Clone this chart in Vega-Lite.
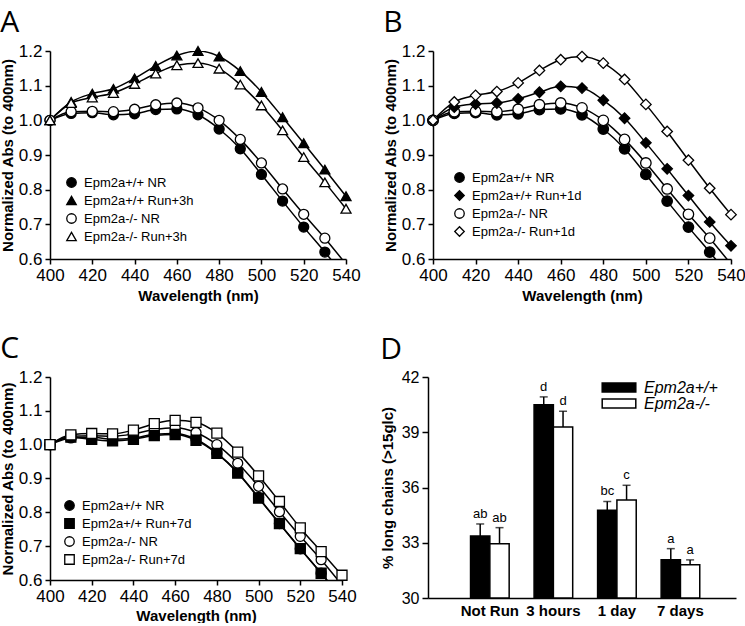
{
  "$schema": "https://vega.github.io/schema/vega-lite/v6.json",
  "padding": {"left": 0, "top": 8, "right": 0, "bottom": 0},
  "background": "white",
  "config": {
    "view": {"stroke": null},
    "font": "Liberation Sans",
    "axis": {"domainColor": "black", "domainWidth": 1.5, "tickColor": "black", "tickWidth": 1.5, "tickSize": 5, "labelColor": "black", "labelFontSize": 17, "labelFont": "Liberation Sans", "titleFont": "Liberation Sans", "titleFontSize": 15, "titleFontWeight": "bold", "titleColor": "black", "grid": false, "labelPadding": 3, "labelOverlap": false, "labelFlush": false},
    "legend": {"labelFont": "Liberation Sans", "labelColor": "black", "labelFontSize": 13, "symbolStrokeColor": "black", "symbolStrokeWidth": 1.3, "symbolSize": 90, "padding": 0, "rowPadding": 3, "labelOffset": 6},
    "title": {"font": "Open Sans", "fontSize": 30, "fontWeight": "normal", "anchor": "start", "frame": "bounds", "color": "black", "offset": 0}
  },
  "datasets": {
    "curves": [
      {"s": "Epm2a+/+ NR", "wl": 400, "v": 1.0}, {"s": "Epm2a+/+ NR", "wl": 410, "v": 1.02}, {"s": "Epm2a+/+ NR", "wl": 420, "v": 1.022}, {"s": "Epm2a+/+ NR", "wl": 430, "v": 1.016}, {"s": "Epm2a+/+ NR", "wl": 440, "v": 1.019}, {"s": "Epm2a+/+ NR", "wl": 450, "v": 1.031}, {"s": "Epm2a+/+ NR", "wl": 460, "v": 1.033}, {"s": "Epm2a+/+ NR", "wl": 470, "v": 1.016}, {"s": "Epm2a+/+ NR", "wl": 480, "v": 0.975}, {"s": "Epm2a+/+ NR", "wl": 490, "v": 0.918}, {"s": "Epm2a+/+ NR", "wl": 500, "v": 0.844}, {"s": "Epm2a+/+ NR", "wl": 510, "v": 0.767}, {"s": "Epm2a+/+ NR", "wl": 520, "v": 0.692}, {"s": "Epm2a+/+ NR", "wl": 530, "v": 0.62}, {"s": "Epm2a+/+ NR", "wl": 540, "v": 0.545},
      {"s": "Epm2a-/- NR", "wl": 400, "v": 1.0}, {"s": "Epm2a-/- NR", "wl": 410, "v": 1.025}, {"s": "Epm2a-/- NR", "wl": 420, "v": 1.026}, {"s": "Epm2a-/- NR", "wl": 430, "v": 1.025}, {"s": "Epm2a-/- NR", "wl": 440, "v": 1.032}, {"s": "Epm2a-/- NR", "wl": 450, "v": 1.045}, {"s": "Epm2a-/- NR", "wl": 460, "v": 1.05}, {"s": "Epm2a-/- NR", "wl": 470, "v": 1.036}, {"s": "Epm2a-/- NR", "wl": 480, "v": 1.0}, {"s": "Epm2a-/- NR", "wl": 490, "v": 0.945}, {"s": "Epm2a-/- NR", "wl": 500, "v": 0.877}, {"s": "Epm2a-/- NR", "wl": 510, "v": 0.802}, {"s": "Epm2a-/- NR", "wl": 520, "v": 0.729}, {"s": "Epm2a-/- NR", "wl": 530, "v": 0.66}, {"s": "Epm2a-/- NR", "wl": 540, "v": 0.585},
      {"s": "Epm2a+/+ Run+3h", "wl": 400, "v": 1.0}, {"s": "Epm2a+/+ Run+3h", "wl": 410, "v": 1.053}, {"s": "Epm2a+/+ Run+3h", "wl": 420, "v": 1.077}, {"s": "Epm2a+/+ Run+3h", "wl": 430, "v": 1.091}, {"s": "Epm2a+/+ Run+3h", "wl": 440, "v": 1.121}, {"s": "Epm2a+/+ Run+3h", "wl": 450, "v": 1.157}, {"s": "Epm2a+/+ Run+3h", "wl": 460, "v": 1.187}, {"s": "Epm2a+/+ Run+3h", "wl": 470, "v": 1.2}, {"s": "Epm2a+/+ Run+3h", "wl": 480, "v": 1.184}, {"s": "Epm2a+/+ Run+3h", "wl": 490, "v": 1.142}, {"s": "Epm2a+/+ Run+3h", "wl": 500, "v": 1.082}, {"s": "Epm2a+/+ Run+3h", "wl": 510, "v": 1.009}, {"s": "Epm2a+/+ Run+3h", "wl": 520, "v": 0.934}, {"s": "Epm2a+/+ Run+3h", "wl": 530, "v": 0.858}, {"s": "Epm2a+/+ Run+3h", "wl": 540, "v": 0.781},
      {"s": "Epm2a-/- Run+3h", "wl": 400, "v": 1.0}, {"s": "Epm2a-/- Run+3h", "wl": 410, "v": 1.05}, {"s": "Epm2a-/- Run+3h", "wl": 420, "v": 1.066}, {"s": "Epm2a-/- Run+3h", "wl": 430, "v": 1.079}, {"s": "Epm2a-/- Run+3h", "wl": 440, "v": 1.105}, {"s": "Epm2a-/- Run+3h", "wl": 450, "v": 1.135}, {"s": "Epm2a-/- Run+3h", "wl": 460, "v": 1.159}, {"s": "Epm2a-/- Run+3h", "wl": 470, "v": 1.165}, {"s": "Epm2a-/- Run+3h", "wl": 480, "v": 1.149}, {"s": "Epm2a-/- Run+3h", "wl": 490, "v": 1.103}, {"s": "Epm2a-/- Run+3h", "wl": 500, "v": 1.043}, {"s": "Epm2a-/- Run+3h", "wl": 510, "v": 0.971}, {"s": "Epm2a-/- Run+3h", "wl": 520, "v": 0.894}, {"s": "Epm2a-/- Run+3h", "wl": 530, "v": 0.821}, {"s": "Epm2a-/- Run+3h", "wl": 540, "v": 0.745},
      {"s": "Epm2a+/+ Run+1d", "wl": 400, "v": 1.0}, {"s": "Epm2a+/+ Run+1d", "wl": 410, "v": 1.038}, {"s": "Epm2a+/+ Run+1d", "wl": 420, "v": 1.047}, {"s": "Epm2a+/+ Run+1d", "wl": 430, "v": 1.05}, {"s": "Epm2a+/+ Run+1d", "wl": 440, "v": 1.062}, {"s": "Epm2a+/+ Run+1d", "wl": 450, "v": 1.081}, {"s": "Epm2a+/+ Run+1d", "wl": 460, "v": 1.098}, {"s": "Epm2a+/+ Run+1d", "wl": 470, "v": 1.093}, {"s": "Epm2a+/+ Run+1d", "wl": 480, "v": 1.058}, {"s": "Epm2a+/+ Run+1d", "wl": 490, "v": 1.006}, {"s": "Epm2a+/+ Run+1d", "wl": 500, "v": 0.935}, {"s": "Epm2a+/+ Run+1d", "wl": 510, "v": 0.86}, {"s": "Epm2a+/+ Run+1d", "wl": 520, "v": 0.783}, {"s": "Epm2a+/+ Run+1d", "wl": 530, "v": 0.707}, {"s": "Epm2a+/+ Run+1d", "wl": 540, "v": 0.638},
      {"s": "Epm2a-/- Run+1d", "wl": 400, "v": 1.0}, {"s": "Epm2a-/- Run+1d", "wl": 410, "v": 1.053}, {"s": "Epm2a-/- Run+1d", "wl": 420, "v": 1.072}, {"s": "Epm2a-/- Run+1d", "wl": 430, "v": 1.083}, {"s": "Epm2a-/- Run+1d", "wl": 440, "v": 1.108}, {"s": "Epm2a-/- Run+1d", "wl": 450, "v": 1.144}, {"s": "Epm2a-/- Run+1d", "wl": 460, "v": 1.175}, {"s": "Epm2a-/- Run+1d", "wl": 470, "v": 1.184}, {"s": "Epm2a-/- Run+1d", "wl": 480, "v": 1.165}, {"s": "Epm2a-/- Run+1d", "wl": 490, "v": 1.118}, {"s": "Epm2a-/- Run+1d", "wl": 500, "v": 1.046}, {"s": "Epm2a-/- Run+1d", "wl": 510, "v": 0.968}, {"s": "Epm2a-/- Run+1d", "wl": 520, "v": 0.885}, {"s": "Epm2a-/- Run+1d", "wl": 530, "v": 0.804}, {"s": "Epm2a-/- Run+1d", "wl": 540, "v": 0.728},
      {"s": "Epm2a+/+ Run+7d", "wl": 400, "v": 1.0}, {"s": "Epm2a+/+ Run+7d", "wl": 410, "v": 1.022}, {"s": "Epm2a+/+ Run+7d", "wl": 420, "v": 1.016}, {"s": "Epm2a+/+ Run+7d", "wl": 430, "v": 1.011}, {"s": "Epm2a+/+ Run+7d", "wl": 440, "v": 1.016}, {"s": "Epm2a+/+ Run+7d", "wl": 450, "v": 1.027}, {"s": "Epm2a+/+ Run+7d", "wl": 460, "v": 1.03}, {"s": "Epm2a+/+ Run+7d", "wl": 470, "v": 1.013}, {"s": "Epm2a+/+ Run+7d", "wl": 480, "v": 0.974}, {"s": "Epm2a+/+ Run+7d", "wl": 490, "v": 0.916}, {"s": "Epm2a+/+ Run+7d", "wl": 500, "v": 0.842}, {"s": "Epm2a+/+ Run+7d", "wl": 510, "v": 0.767}, {"s": "Epm2a+/+ Run+7d", "wl": 520, "v": 0.693}, {"s": "Epm2a+/+ Run+7d", "wl": 530, "v": 0.62}, {"s": "Epm2a+/+ Run+7d", "wl": 540, "v": 0.547},
      {"s": "Epm2a-/- Run+7d", "wl": 400, "v": 1.0}, {"s": "Epm2a-/- Run+7d", "wl": 410, "v": 1.029}, {"s": "Epm2a-/- Run+7d", "wl": 420, "v": 1.033}, {"s": "Epm2a-/- Run+7d", "wl": 430, "v": 1.032}, {"s": "Epm2a-/- Run+7d", "wl": 440, "v": 1.043}, {"s": "Epm2a-/- Run+7d", "wl": 450, "v": 1.062}, {"s": "Epm2a-/- Run+7d", "wl": 460, "v": 1.072}, {"s": "Epm2a-/- Run+7d", "wl": 470, "v": 1.066}, {"s": "Epm2a-/- Run+7d", "wl": 480, "v": 1.034}, {"s": "Epm2a-/- Run+7d", "wl": 490, "v": 0.978}, {"s": "Epm2a-/- Run+7d", "wl": 500, "v": 0.908}, {"s": "Epm2a-/- Run+7d", "wl": 510, "v": 0.832}, {"s": "Epm2a-/- Run+7d", "wl": 520, "v": 0.754}, {"s": "Epm2a-/- Run+7d", "wl": 530, "v": 0.684}, {"s": "Epm2a-/- Run+7d", "wl": 540, "v": 0.614}
    ],
    "bars": [
      {"time": "Not Run", "g": "Epm2a+/+", "mean": 33.37, "upper": 34.02, "letter": "ab"},
      {"time": "Not Run", "g": "Epm2a-/-", "mean": 32.94, "upper": 33.82, "letter": "ab"},
      {"time": "3 hours", "g": "Epm2a+/+", "mean": 40.5, "upper": 40.92, "letter": "d"},
      {"time": "3 hours", "g": "Epm2a-/-", "mean": 39.28, "upper": 40.14, "letter": "d"},
      {"time": "1 day", "g": "Epm2a+/+", "mean": 34.76, "upper": 35.24, "letter": "bc"},
      {"time": "1 day", "g": "Epm2a-/-", "mean": 35.32, "upper": 36.12, "letter": "c"},
      {"time": "7 days", "g": "Epm2a+/+", "mean": 32.08, "upper": 32.68, "letter": "a"},
      {"time": "7 days", "g": "Epm2a-/-", "mean": 31.8, "upper": 32.07, "letter": "a"}
    ]
  },
  "resolve": {"scale": {"shape": "independent", "fill": "independent", "stroke": "independent", "x": "independent", "y": "independent"}, "legend": {"shape": "independent", "fill": "independent", "stroke": "independent"}},
  "spacing": 31,
  "vconcat": [
    {
      "spacing": 22,
      "resolve": {"scale": {"shape": "independent", "fill": "independent", "stroke": "independent", "x": "independent", "y": "independent"}, "legend": {"shape": "independent", "fill": "independent", "stroke": "independent"}},
      "hconcat": [
        {
          "title": {"text": "A"},
          "width": 296, "height": 208,
          "data": {"name": "curves"},
          "transform": [{"filter": {"field": "s", "oneOf": ["Epm2a+/+ NR", "Epm2a+/+ Run+3h", "Epm2a-/- NR", "Epm2a-/- Run+3h"]}}],
          "encoding": {
            "x": {"field": "wl", "type": "quantitative", "scale": {"domain": [400, 540], "nice": false, "zero": false}, "axis": {"values": [400, 420, 440, 460, 480, 500, 520, 540], "title": "Wavelength (nm)", "titlePadding": 5}},
            "y": {"field": "v", "type": "quantitative", "scale": {"domain": [0.6, 1.2], "nice": false, "zero": false}, "axis": {"values": [0.6, 0.7, 0.8, 0.9, 1.0, 1.1, 1.2], "format": ".1f", "title": "Normalized Abs (to 400nm)", "titlePadding": 3}}
          },
          "layer": [
            {"mark": {"type": "line", "color": "black", "strokeWidth": 1.5, "interpolate": "monotone", "clip": true}, "encoding": {"detail": {"field": "s"}}},
            {"transform": [{"filter": "datum.v >= 0.6"}],
             "mark": {"type": "point", "filled": true, "strokeWidth": 1.3, "size": 100, "opacity": 1},
             "encoding": {
               "shape": {"field": "s", "scale": {"domain": ["Epm2a+/+ NR", "Epm2a+/+ Run+3h", "Epm2a-/- NR", "Epm2a-/- Run+3h"], "range": ["circle", "triangle-up", "circle", "triangle-up"]}, "legend": {"title": null, "orient": "bottom-left", "offset": 15}},
               "fill": {"field": "s", "scale": {"domain": ["Epm2a+/+ NR", "Epm2a+/+ Run+3h", "Epm2a-/- NR", "Epm2a-/- Run+3h"], "range": ["black", "black", "white", "white"]}, "legend": {"title": null, "orient": "bottom-left", "offset": 15}},
               "stroke": {"field": "s", "scale": {"domain": ["Epm2a+/+ NR", "Epm2a+/+ Run+3h", "Epm2a-/- NR", "Epm2a-/- Run+3h"], "range": ["black", "black", "black", "black"]}, "legend": {"title": null, "orient": "bottom-left", "offset": 15}}
             }}
          ]
        },
        {
          "title": {"text": "B"},
          "width": 298, "height": 208,
          "data": {"name": "curves"},
          "transform": [{"filter": {"field": "s", "oneOf": ["Epm2a+/+ NR", "Epm2a+/+ Run+1d", "Epm2a-/- NR", "Epm2a-/- Run+1d"]}}],
          "encoding": {
            "x": {"field": "wl", "type": "quantitative", "scale": {"domain": [400, 540], "nice": false, "zero": false}, "axis": {"values": [400, 420, 440, 460, 480, 500, 520, 540], "title": "Wavelength (nm)", "titlePadding": 5}},
            "y": {"field": "v", "type": "quantitative", "scale": {"domain": [0.6, 1.2], "nice": false, "zero": false}, "axis": {"values": [0.6, 0.7, 0.8, 0.9, 1.0, 1.1, 1.2], "format": ".1f", "title": "Normalized Abs (to 400nm)", "titlePadding": 3}}
          },
          "layer": [
            {"mark": {"type": "line", "color": "black", "strokeWidth": 1.5, "interpolate": "monotone", "clip": true}, "encoding": {"detail": {"field": "s"}}},
            {"transform": [{"filter": "datum.v >= 0.6"}],
             "mark": {"type": "point", "filled": true, "strokeWidth": 1.3, "size": 110, "opacity": 1},
             "encoding": {
               "shape": {"field": "s", "scale": {"domain": ["Epm2a+/+ NR", "Epm2a+/+ Run+1d", "Epm2a-/- NR", "Epm2a-/- Run+1d"], "range": ["circle", "diamond", "circle", "diamond"]}, "legend": {"title": null, "orient": "bottom-left", "offset": 20}},
               "fill": {"field": "s", "scale": {"domain": ["Epm2a+/+ NR", "Epm2a+/+ Run+1d", "Epm2a-/- NR", "Epm2a-/- Run+1d"], "range": ["black", "black", "white", "white"]}, "legend": {"title": null, "orient": "bottom-left", "offset": 20}},
               "stroke": {"field": "s", "scale": {"domain": ["Epm2a+/+ NR", "Epm2a+/+ Run+1d", "Epm2a-/- NR", "Epm2a-/- Run+1d"], "range": ["black", "black", "black", "black"]}, "legend": {"title": null, "orient": "bottom-left", "offset": 20}}
             }}
          ]
        }
      ]
    },
    {
      "spacing": 23,
      "resolve": {"scale": {"shape": "independent", "fill": "independent", "stroke": "independent", "x": "independent", "y": "independent"}, "legend": {"shape": "independent", "fill": "independent", "stroke": "independent"}},
      "hconcat": [
        {
          "title": {"text": "C"},
          "width": 292, "height": 203,
          "data": {"name": "curves"},
          "transform": [{"filter": {"field": "s", "oneOf": ["Epm2a+/+ NR", "Epm2a+/+ Run+7d", "Epm2a-/- NR", "Epm2a-/- Run+7d"]}}],
          "encoding": {
            "x": {"field": "wl", "type": "quantitative", "scale": {"domain": [400, 540], "nice": false, "zero": false}, "axis": {"values": [400, 420, 440, 460, 480, 500, 520, 540], "title": "Wavelength (nm)", "titlePadding": 4}},
            "y": {"field": "v", "type": "quantitative", "scale": {"domain": [0.6, 1.2], "nice": false, "zero": false}, "axis": {"values": [0.6, 0.7, 0.8, 0.9, 1.0, 1.1, 1.2], "format": ".1f", "title": "Normalized Abs (to 400nm)", "titlePadding": 3}}
          },
          "layer": [
            {"mark": {"type": "line", "color": "black", "strokeWidth": 1.5, "interpolate": "monotone", "clip": true}, "encoding": {"detail": {"field": "s"}}},
            {"transform": [{"filter": "datum.v >= 0.6"}],
             "mark": {"type": "point", "filled": true, "strokeWidth": 1.3, "size": 100, "opacity": 1},
             "encoding": {
               "shape": {"field": "s", "scale": {"domain": ["Epm2a+/+ NR", "Epm2a+/+ Run+7d", "Epm2a-/- NR", "Epm2a-/- Run+7d"], "range": ["circle", "square", "circle", "square"]}, "legend": {"title": null, "orient": "bottom-left", "offset": 13}},
               "fill": {"field": "s", "scale": {"domain": ["Epm2a+/+ NR", "Epm2a+/+ Run+7d", "Epm2a-/- NR", "Epm2a-/- Run+7d"], "range": ["black", "black", "white", "white"]}, "legend": {"title": null, "orient": "bottom-left", "offset": 13}},
               "stroke": {"field": "s", "scale": {"domain": ["Epm2a+/+ NR", "Epm2a+/+ Run+7d", "Epm2a-/- NR", "Epm2a-/- Run+7d"], "range": ["black", "black", "black", "black"]}, "legend": {"title": null, "orient": "bottom-left", "offset": 13}}
             }}
          ]
        },
        {
          "title": {"text": "D", "offset": 4},
          "width": 308, "height": 221,
          "data": {"name": "bars"},
          "encoding": {
            "x": {"field": "time", "type": "nominal", "sort": ["Not Run", "3 hours", "1 day", "7 days"], "scale": {"paddingInner": 0.392, "paddingOuter": 0.62, "align": 0.54}, "axis": {"title": null, "labelAngle": 0, "labelFontWeight": "bold", "labelFontSize": 15, "ticks": false, "labelPadding": 5}},
            "xOffset": {"field": "g", "type": "nominal", "sort": ["Epm2a+/+", "Epm2a-/-"], "scale": {"paddingInner": 0, "paddingOuter": 0}}
          },
          "layer": [
            {"mark": {"type": "bar", "stroke": "black", "strokeWidth": 1.5},
             "encoding": {
               "y": {"field": "mean", "type": "quantitative", "scale": {"domain": [30, 42], "zero": false, "nice": false}, "axis": {"values": [30, 33, 36, 39, 42], "title": "% long chains (>15glc)", "titlePadding": 6, "tickSize": 6, "labelFontSize": 16}},
               "y2": {"datum": 30},
               "fill": {"field": "g", "type": "nominal", "scale": {"domain": ["Epm2a+/+", "Epm2a-/-"], "range": ["black", "white"]}, "legend": {"title": null, "orient": "none", "legendX": 183, "legendY": 2.5, "symbolType": "M-2.8,-0.75H2.8V0.75H-2.8Z", "symbolSize": 144, "symbolStrokeWidth": 1.5, "symbolStrokeColor": "black", "labelFontSize": 16, "labelFontStyle": "italic", "rowPadding": 0, "labelOffset": 17}}
             }},
            {"mark": {"type": "rule", "strokeWidth": 1.5, "color": "black"}, "encoding": {"y": {"field": "mean", "type": "quantitative"}, "y2": {"field": "upper"}}},
            {"mark": {"type": "tick", "color": "black", "thickness": 1.5, "size": 8}, "encoding": {"y": {"field": "upper", "type": "quantitative"}}},
            {"mark": {"type": "text", "baseline": "bottom", "dy": -3, "fontSize": 13, "font": "Liberation Sans", "color": "black"}, "encoding": {"y": {"field": "upper", "type": "quantitative"}, "text": {"field": "letter"}}}
          ]
        }
      ]
    }
  ]
}
